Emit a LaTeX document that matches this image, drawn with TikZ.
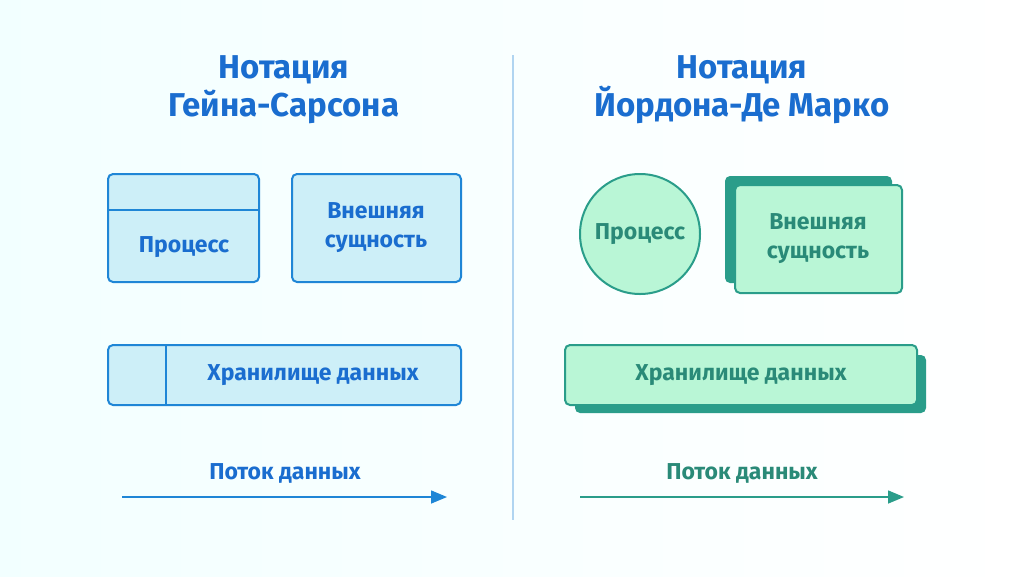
\documentclass[tikz,border=0pt]{standalone}
\usepackage{fontspec}
\setmainfont{Fira Sans}
\usetikzlibrary{positioning, arrows.meta}
\definecolor{gsline}{HTML}{1F86D6}
\definecolor{gsfill}{HTML}{CDEFF8}
\definecolor{gstext}{HTML}{1A6DCF}
\definecolor{ydline}{HTML}{2A9D8A}
\definecolor{ydfill}{HTML}{B9F6D6}
\definecolor{ydtext}{HTML}{2A8A78}
\tikzset{
  gsbox/.style={draw=gsline, fill=gsfill, line width=2pt, rounded corners=5pt},
  ydbox/.style={draw=ydline, fill=ydfill, line width=2pt, rounded corners=5pt},
  ydshadow/.style={fill=ydline, rounded corners=5pt},
  lbl/.style={font=\fontsize{23}{29}\selectfont\bfseries, align=center},
  ttl/.style={font=\fontsize{33}{38}\selectfont\bfseries, align=center}
}
\begin{document}
\begin{tikzpicture}[x=1pt, y=-1pt, >={Triangle[length=16pt, width=13pt]}]
    \shade[left color=cyan!5, right color=white] (0,0) rectangle (1024,576);
    \useasboundingbox (0,0) rectangle (1024,576);

    \coordinate (s01) at (513, 55);
    \coordinate (s02) at (513,520);
    \draw[gsline!35, line width=1.5pt] (s01) -- (s02);

    % Gane-Sarson
    \node[ttl, text=gstext] (t1) at (284,90) {Нотация\\Гейна-Сарсона};
    \draw[gsbox] (108,174) rectangle (259,282);
    \draw[gsline, line width=2pt] (108,210) -- (259,210);
    \node[lbl, text=gstext] (p1) at (184,247) {Процесс};
    \draw[gsbox] (292,174) rectangle (461,282);
    \node[lbl, text=gstext] (e1) at (376,228) {Внешняя\\сущность};
    \draw[gsbox] (108,345) rectangle (461,405);
    \draw[gsline, line width=2pt] (166,345) -- (166,405);
    \node[lbl, text=gstext] (d1) at (313,375) {Хранилище данных};
    \node[lbl, text=gstext] (f1) at (285,473) {Поток данных};
    \coordinate (a1) at (122,497);
    \coordinate (b1) at (447,497);
    \draw[->, gsline, line width=1.5pt] (a1) -- (b1);

    % Yourdon-DeMarco
    \node[ttl, text=gstext] (t2) at (742,90) {Нотация\\Йордона-Де Марко};
    \node[ydbox, circle, minimum size=120pt, inner sep=0pt, lbl, text=ydtext] (p2) at (640,234) {Процесс};
    \fill[ydshadow] (725,176) rectangle (892,283);
    \draw[ydbox] (735,185) rectangle (902,293);
    \node[lbl, text=ydtext] (e2) at (818,239) {Внешняя\\сущность};
    \fill[ydshadow] (575,355) rectangle (926,413);
    \draw[ydbox] (565,345) rectangle (917,405);
    \node[lbl, text=ydtext] (d2) at (741,375) {Хранилище данных};
    \node[lbl, text=ydtext] (f2) at (742,473) {Поток данных};
    \coordinate (a2) at (580,497);
    \coordinate (b2) at (904,497);
    \draw[->, ydline, line width=1.5pt] (a2) -- (b2);
\end{tikzpicture}
\end{document}
